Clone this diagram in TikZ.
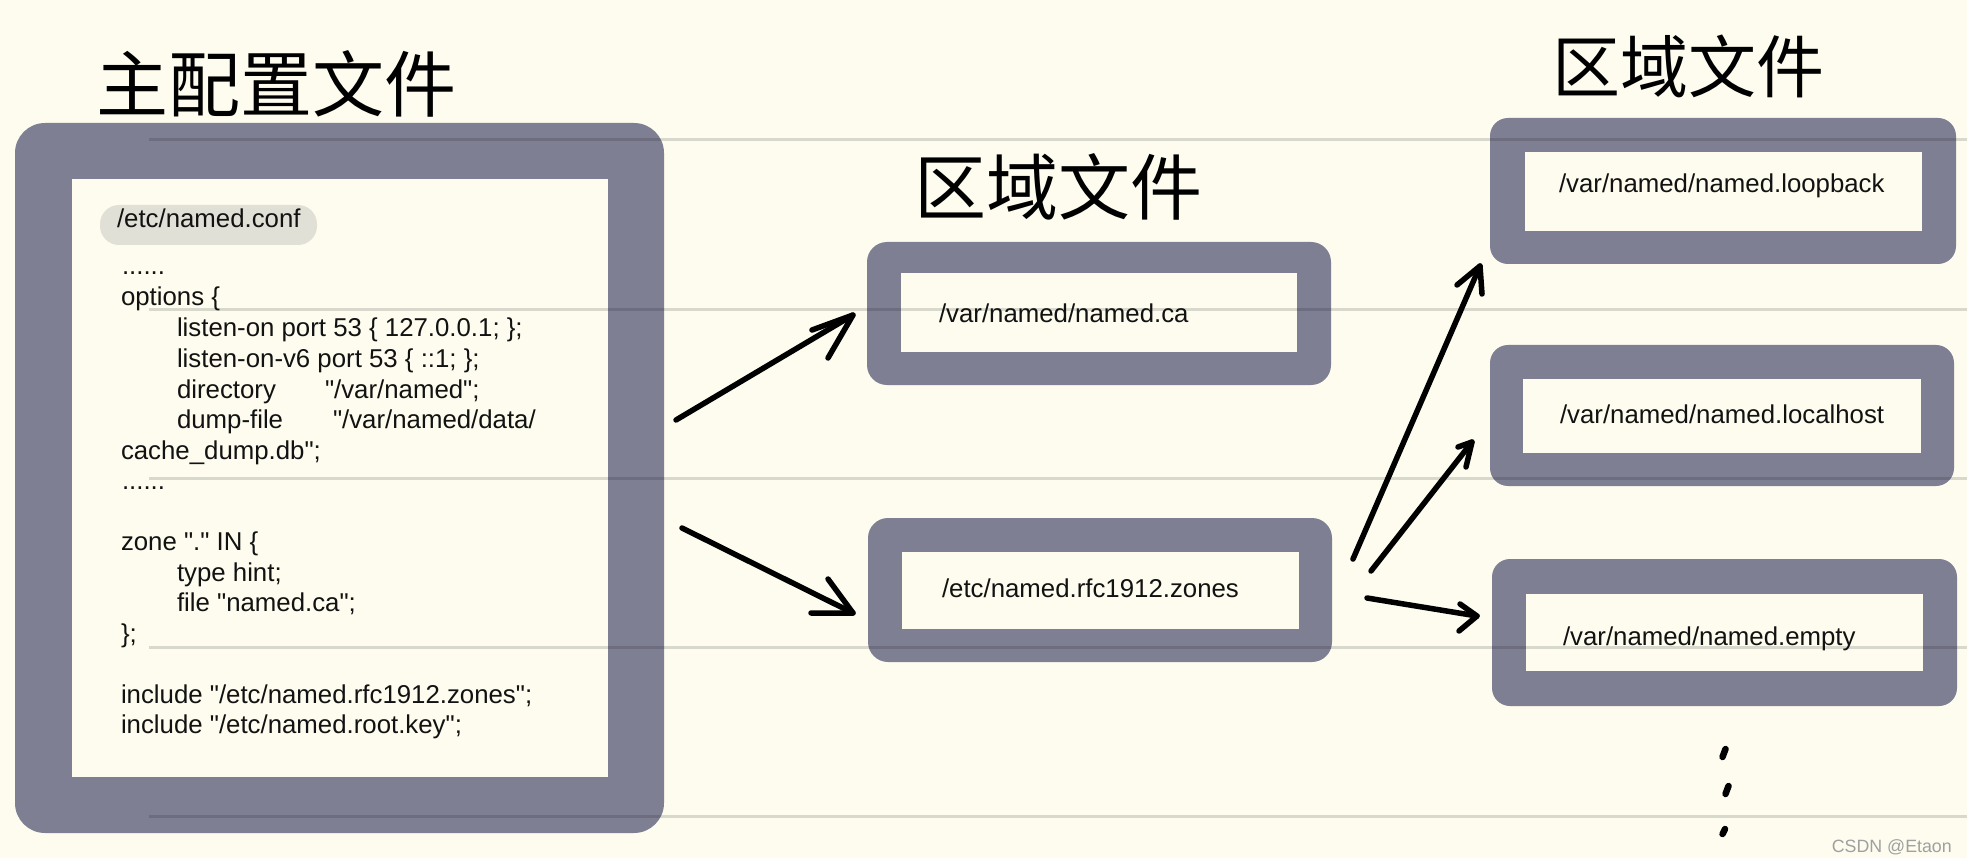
\documentclass[tikz,border=0pt]{standalone}
\usepackage{fontspec}
\setmainfont{Liberation Sans}
\newfontfamily\codefont{Liberation Sans}
\newfontfamily\cjk{Noto Sans CJK SC}
\definecolor{paper}{RGB}{253,252,238}
\definecolor{frame}{RGB}{127,127,148}
\definecolor{hilite}{RGB}{225,224,214}
\definecolor{mark}{RGB}{160,160,160}
\tikzset{
  outerbox/.style={rectangle, fill=frame, draw=none, rounded corners=#1, inner sep=0pt, outer sep=0pt},
  innerbox/.style={rectangle, fill=paper, draw=none, inner sep=0pt, outer sep=0pt},
  code/.style={anchor=base west, inner sep=0pt, outer sep=0pt, font=\codefont\fontsize{25.8}{30.5}\selectfont, text=black!93},
  title/.style={inner sep=0pt, font=\cjk\fontsize{#1}{#1}\selectfont, text=black},
  pen/.style={draw=black, line width=5.5pt, line cap=round, line join=round},
  ruling/.style={draw=black, draw opacity=0.14, line width=3pt},
  dotmark/.style={draw=black, line width=6.5pt, line cap=round}
}
\begin{document}
\begin{tikzpicture}[x=1pt,y=-1pt]
\useasboundingbox (0,0) rectangle (1967,858);
\fill[paper] (0,0) rectangle (1967,858);

% titles
\node[title=72] (t1) at (276,84) {主配置文件};
\node[title=72] (t2) at (1058,187) {区域文件};
\node[title=68] (t3) at (1688,66) {区域文件};

% main config box
\node[outerbox=30pt, minimum width=649, minimum height=710] (mainout) at (339.5,478) {};
\node[innerbox, minimum width=536, minimum height=598] (mainin) at (340,478) {};
\fill[hilite, rounded corners=19pt] (100,205) rectangle (317,245);

% middle boxes
\node[outerbox=20pt, minimum width=464, minimum height=143] (caout) at (1099,313.5) {};
\node[innerbox, minimum width=396, minimum height=79] (cain) at (1099,312.5) {};
\node[outerbox=20pt, minimum width=464, minimum height=144] (rfcout) at (1100,590) {};
\node[innerbox, minimum width=397, minimum height=77] (rfcin) at (1100.5,590.5) {};

% right boxes
\node[outerbox=18pt, minimum width=466, minimum height=146] (lbout) at (1723,191) {};
\node[innerbox, minimum width=397, minimum height=79] (lbin) at (1723.5,191.5) {};
\node[outerbox=18pt, minimum width=464, minimum height=141] (lhout) at (1722,415.5) {};
\node[innerbox, minimum width=398, minimum height=74] (lhin) at (1722,416) {};
\node[outerbox=18pt, minimum width=465, minimum height=147] (emout) at (1724.5,632.5) {};
\node[innerbox, minimum width=397, minimum height=77] (emin) at (1724.5,632.5) {};

% notebook ruling
\foreach \yy in {140,310,478,647,816} {
  \draw[ruling] (149,\yy) -- (1967,\yy);
}

% code text
\node[code] (c0) at (117,228) {/etc/named.conf};
\node[code] (c1) at (122,275) {......};
\node[code] (c2) at (121,306) {options \{};
\node[code] (c3) at (177,337) {listen-on port 53 \{ 127.0.0.1; \};};
\node[code] (c4) at (177,367) {listen-on-v6 port 53 \{ ::1; \};};
\node[code] (c5) at (177,398) {directory};
\node[code] (c5b) at (325,398) {"/var/named";};
\node[code] (c6) at (177,428) {dump-file};
\node[code] (c6b) at (333,428) {"/var/named/data/};
\node[code] (c7) at (121,459) {cache\_dump.db";};
\node[code] (c8) at (122,489) {......};
\node[code] (c9) at (121,550) {zone "." IN \{};
\node[code] (c10) at (177,581) {type hint;};
\node[code] (c11) at (177,611) {file "named.ca";};
\node[code] (c12) at (121,642) {\};};
\node[code] (c13) at (121,703) {include "/etc/named.rfc1912.zones";};
\node[code] (c14) at (121,733) {include "/etc/named.root.key";};

% box texts
\node[code] (tca) at (939,323) {/var/named/named.ca};
\node[code] (trfc) at (942,597) {/etc/named.rfc1912.zones};
\node[code] (tlb) at (1559,193) {/var/named/named.loopback};
\node[code] (tlh) at (1560,423) {/var/named/named.localhost};
\node[code] (tem) at (1563,645) {/var/named/named.empty};

% arrows: main -> middle
\coordinate (a1s) at (676,420); \coordinate (a1t) at (853,315);
\coordinate (a1l) at (812,330); \coordinate (a1r) at (828,358);
\draw[pen] (a1s) -- (a1t);
\draw[pen] (a1l) -- (a1t) -- (a1r);
\coordinate (a2s) at (682,528); \coordinate (a2t) at (853,613);
\coordinate (a2l) at (828,579); \coordinate (a2r) at (811,613);
\draw[pen] (a2s) -- (a2t);
\draw[pen] (a2l) -- (a2t) -- (a2r);

% arrows: rfc -> right
\coordinate (b1s) at (1353,559); \coordinate (b1t) at (1480,266);
\coordinate (b1l) at (1457,285); \coordinate (b1r) at (1482,294);
\draw[pen] (b1s) -- (b1t);
\draw[pen] (b1l) -- (b1t) -- (b1r);
\coordinate (b2s) at (1371,571); \coordinate (b2t) at (1472,442);
\coordinate (b2l) at (1458,447); \coordinate (b2r) at (1466,467);
\draw[pen] (b2s) -- (b2t);
\draw[pen] (b2l) -- (b2t) -- (b2r);
\coordinate (b3s) at (1367,598); \coordinate (b3t) at (1477,616);
\coordinate (b3l) at (1460,604); \coordinate (b3r) at (1459,631);
\draw[pen] (b3s) -- (b3t);
\draw[pen] (b3l) -- (b3t) -- (b3r);

% ellipsis dots
\draw[dotmark] (1722.5,757) -- (1725.5,749);
\draw[dotmark] (1725.5,794) -- (1728.5,786);
\draw[dotmark] (1722.5,834) -- (1725,829);

% watermark
\node[anchor=base east, inner sep=0pt, font=\codefont\fontsize{17.8}{18}\selectfont, text=mark] (wm) at (1952,852) {CSDN @Etaon};
\end{tikzpicture}
\end{document}
